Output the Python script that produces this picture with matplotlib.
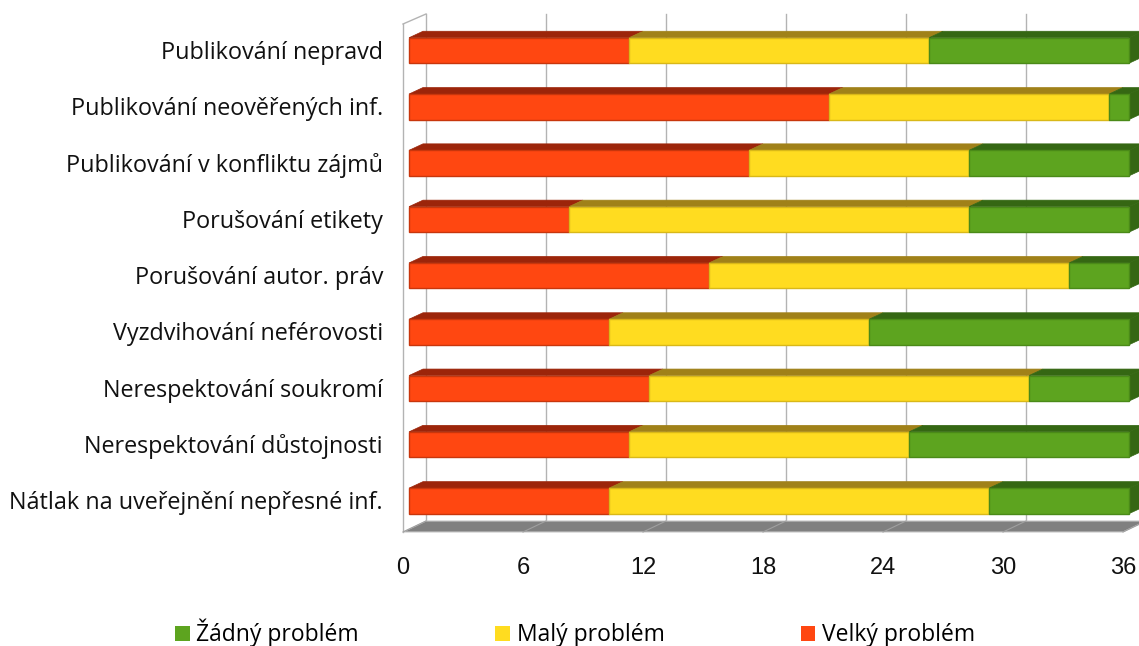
import matplotlib
matplotlib.use("Agg")
import matplotlib.pyplot as plt
from matplotlib.patches import Polygon, Patch
import numpy as np

categories = ["Publikování nepravd", "Publikování neověřených inf.", "Publikování v konfliktu zájmů",
              "Porušování etikety", "Porušování autor. práv", "Vyzdvihování neférovosti",
              "Nerespektování soukromí", "Nerespektování důstojnosti", "Nátlak na uveřejnění nepřesné inf."]
velky = [11, 21, 17, 8, 15, 10, 12, 11, 10]
maly = [15, 14, 11, 20, 18, 13, 19, 14, 19]
zadny = [10, 1, 8, 8, 3, 13, 5, 11, 7]
series_names = ["Velký problém", "Malý problém", "Žádný problém"]
xticks = [0, 6, 12, 18, 24, 30, 36]

front_cols = ["#FF4711", "#FFDC20", "#5DA41F"]
top_cols = ["#9C250A", "#A08119", "#356713"]
edge_cols = ["#C8360C", "#D9B818", "#4A8A18"]

W, H = 1139, 646
fig = plt.figure(figsize=(W / 100, H / 100), dpi=100)
ax = fig.add_axes([0, 0, 1, 1])
px_per_unit = 20.0
x0_px = 409.0
pitch = 56.3
y0_px = 50.5
ax.set_xlim(-x0_px / px_per_unit, (W - x0_px) / px_per_unit)
ax.set_ylim((H - y0_px) / pitch, -y0_px / pitch)
ax.axis("off")

n = len(categories)
ypos = np.arange(n)
bh = 25.5 / pitch
ddx = 14 / px_per_unit
ddy = 6.5 / pitch

# frame geometry (front plane / back plane)
fx = -6 / px_per_unit
bx = 17 / px_per_unit
floor_front = (532 - y0_px) / pitch
floor_back = (521 - y0_px) / pitch
top_front = (24 - y0_px) / pitch
top_back = (14 - y0_px) / pitch
xmax = xticks[-1]

grid_c = "#B3B3B3"
for v in xticks:
    ax.plot([v + bx, v + bx], [top_back, floor_back], color=grid_c, lw=1.0, zorder=1)
ax.plot([fx, fx], [top_front, floor_front], color=grid_c, lw=1.0, zorder=1)
ax.plot([fx, bx], [top_front, top_back], color=grid_c, lw=1.0, zorder=1)
ax.add_patch(Polygon([[fx, floor_front], [xmax + fx, floor_front], [xmax + bx, floor_back], [bx, floor_back]],
                     closed=True, facecolor="#808080", edgecolor="#C8C8C8", lw=0.8, zorder=1))
for v in xticks:
    ax.plot([v + fx, v + bx], [floor_front, floor_back], color="#A0A0A0", lw=0.8, zorder=1.1)

data = [velky, maly, zadny]
lefts = np.zeros(n)
for s, vals in enumerate(data):
    vals = np.array(vals, dtype=float)
    for i in range(n):
        l, r = lefts[i], lefts[i] + vals[i]
        yt = ypos[i] - bh / 2
        ax.add_patch(Polygon([[l, yt], [r, yt], [r + ddx, yt - ddy], [l + ddx, yt - ddy]], closed=True,
                             facecolor=top_cols[s], edgecolor=top_cols[s], lw=0.5, zorder=2))
    ax.barh(ypos, vals, left=lefts, height=bh, color=front_cols[s], edgecolor=edge_cols[s],
            linewidth=1.0, zorder=3)
    lefts = lefts + vals

for i in range(n):
    r = lefts[i]
    yt = ypos[i] - bh / 2
    yb = ypos[i] + bh / 2
    ax.add_patch(Polygon([[r, yt], [r + ddx, yt - ddy], [r + ddx, yb - ddy], [r, yb]], closed=True,
                         facecolor=top_cols[2], edgecolor=top_cols[2], lw=0.5, zorder=2.5))

lab_x = (383 - x0_px) / px_per_unit
for i, c in enumerate(categories):
    ax.text(lab_x, ypos[i] + 0.04, c, ha="right", va="center", fontsize=16.8,
            family="Open Sans", color="#111111")

tick_y = (568.5 - y0_px) / pitch
for v in xticks:
    ax.text(v + fx, tick_y, str(v), ha="center", va="center", fontsize=17,
            family="Liberation Sans", color="#111111")

handles = [Patch(facecolor=front_cols[2], label=series_names[2]),
           Patch(facecolor=front_cols[1], label=series_names[1]),
           Patch(facecolor=front_cols[0], label=series_names[0])]
leg = fig.legend(handles=handles, loc="center", bbox_to_anchor=(0.505, 1 - 633 / H), ncol=3,
                 frameon=False, prop={"family": "Open Sans", "size": 16.5},
                 handlelength=0.62, handleheight=0.62, handletextpad=0.3, columnspacing=5.95)

fig.savefig("out.png", dpi=100)
